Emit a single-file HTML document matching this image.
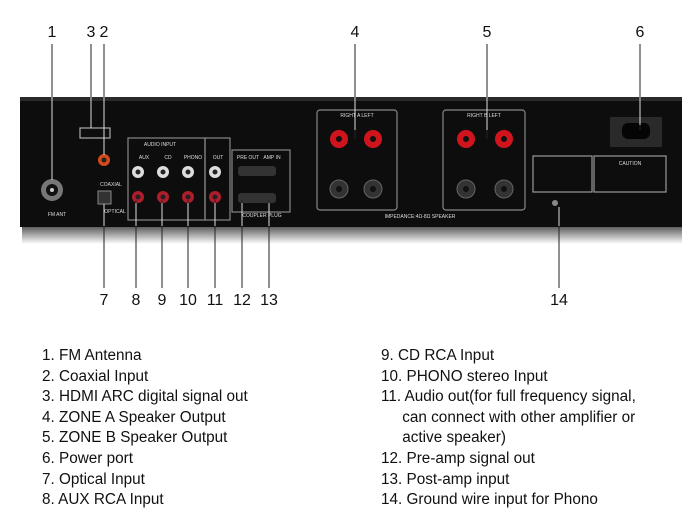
<!DOCTYPE html><html><head><style>body{margin:0;background:#fff;width:700px;height:521px;overflow:hidden;font-family:"Liberation Sans",sans-serif}
.leg{position:absolute;font-size:15.3px;line-height:20.6px;color:#111}</style></head><body>
<svg width="700" height="521" style="position:absolute;left:0;top:0" font-family="Liberation Sans">
<defs><linearGradient id="r" x1="0" y1="0" x2="0" y2="1"><stop offset="0" stop-color="#555"/><stop offset="1" stop-color="#fff"/></linearGradient></defs>
<rect x="22" y="226" width="660" height="18" fill="url(#r)"/>
<rect x="20" y="97" width="662" height="130" fill="#0d0d0d"/>
<rect x="20" y="97" width="662" height="4" fill="#2a2a2a"/>
<g fill="#111" font-size="16" text-anchor="middle">
<text x="52" y="37">1</text><text x="91" y="37">3</text><text x="104" y="37">2</text><text x="355" y="37">4</text><text x="487" y="37">5</text><text x="640" y="37">6</text>
<text x="104" y="305">7</text><text x="136" y="305">8</text><text x="162" y="305">9</text><text x="188" y="305">10</text><text x="215" y="305">11</text><text x="242" y="305">12</text><text x="269" y="305">13</text><text x="559" y="305">14</text>
</g>
<g fill="none" stroke-width="1.2">
<rect x="80" y="128" width="30" height="10" stroke="#aaa"/>
<rect x="128" y="138" width="77" height="82" stroke="#888"/>
<rect x="205" y="138" width="25" height="82" stroke="#888"/>
<rect x="232" y="150" width="58" height="62" stroke="#888"/>
<rect x="317" y="110" width="80" height="100" rx="3" stroke="#888"/>
<rect x="443" y="110" width="82" height="100" rx="3" stroke="#888"/>
<rect x="533" y="156" width="59" height="36" stroke="#999"/>
<rect x="594" y="156" width="72" height="36" stroke="#999"/>
</g>
<rect x="610" y="117" width="52" height="30" fill="#2a2a2a"/>
<rect x="622" y="123" width="28" height="16" rx="6" fill="#050505"/>
<circle cx="52" cy="190" r="11" fill="#777"/><circle cx="52" cy="190" r="6" fill="#111"/><circle cx="52" cy="190" r="2" fill="#ccc"/>
<circle cx="104" cy="160" r="6" fill="#d24a1a"/><circle cx="104" cy="160" r="2.5" fill="#222"/>
<rect x="98" y="191" width="13" height="13" fill="#333" stroke="#888"/>
<g fill="#ddd"><circle cx="138" cy="172" r="6"/><circle cx="163" cy="172" r="6"/><circle cx="188" cy="172" r="6"/><circle cx="215" cy="172" r="6"/></g>
<g fill="#b01d2a"><circle cx="138" cy="197" r="6"/><circle cx="163" cy="197" r="6"/><circle cx="188" cy="197" r="6"/><circle cx="215" cy="197" r="6"/></g>
<g fill="#222"><circle cx="138" cy="172" r="2.5"/><circle cx="163" cy="172" r="2.5"/><circle cx="188" cy="172" r="2.5"/><circle cx="215" cy="172" r="2.5"/><circle cx="138" cy="197" r="2.5"/><circle cx="163" cy="197" r="2.5"/><circle cx="188" cy="197" r="2.5"/><circle cx="215" cy="197" r="2.5"/></g>
<rect x="238" y="166" width="38" height="10" rx="3" fill="#333"/><rect x="238" y="193" width="38" height="10" rx="3" fill="#333"/>
<g fill="#d0141e"><circle cx="339" cy="139" r="9"/><circle cx="373" cy="139" r="9"/><circle cx="466" cy="139" r="9"/><circle cx="504" cy="139" r="9"/></g>
<g fill="#333" stroke="#666"><circle cx="339" cy="189" r="9"/><circle cx="373" cy="189" r="9"/><circle cx="466" cy="189" r="9"/><circle cx="504" cy="189" r="9"/></g>
<g fill="#111"><circle cx="339" cy="139" r="3"/><circle cx="373" cy="139" r="3"/><circle cx="466" cy="139" r="3"/><circle cx="504" cy="139" r="3"/><circle cx="339" cy="189" r="3"/><circle cx="373" cy="189" r="3"/><circle cx="466" cy="189" r="3"/><circle cx="504" cy="189" r="3"/></g>
<g fill="#ddd" font-size="5" text-anchor="middle">
<text x="160" y="146">AUDIO INPUT</text><text x="144" y="159">AUX</text><text x="168" y="159">CD</text><text x="193" y="159">PHONO</text><text x="218" y="159">OUT</text>
<text x="248" y="159">PRE OUT</text><text x="272" y="159">AMP IN</text><text x="262" y="217">COUPLER PLUG</text>
<text x="57" y="216">FM ANT</text><text x="111" y="186">COAXIAL</text><text x="115" y="213">OPTICAL</text>
<text x="357" y="117">RIGHT  A  LEFT</text><text x="484" y="117">RIGHT  B  LEFT</text>
<text x="420" y="218">IMPEDANCE:4Ω-8Ω   SPEAKER</text><text x="630" y="165">CAUTION</text>
</g>
<g stroke="#222" stroke-width="1">
<line x1="52" y1="44" x2="52" y2="180"/><line x1="91" y1="44" x2="91" y2="128"/><line x1="104" y1="44" x2="104" y2="155"/>
<line x1="355" y1="44" x2="355" y2="139"/><line x1="487" y1="44" x2="487" y2="139"/><line x1="640" y1="44" x2="640" y2="130"/>
<line x1="104" y1="204" x2="104" y2="288"/><line x1="136" y1="200" x2="136" y2="288"/><line x1="162" y1="200" x2="162" y2="288"/><line x1="188" y1="200" x2="188" y2="288"/><line x1="215" y1="200" x2="215" y2="288"/><line x1="242" y1="200" x2="242" y2="288"/><line x1="269" y1="200" x2="269" y2="288"/><line x1="559" y1="207" x2="559" y2="288"/>
</g>
<g stroke="#ddd" stroke-width="1">
<line x1="52" y1="97" x2="52" y2="180"/><line x1="91" y1="97" x2="91" y2="128"/><line x1="104" y1="97" x2="104" y2="155"/>
<line x1="355" y1="97" x2="355" y2="130"/><line x1="487" y1="97" x2="487" y2="130"/><line x1="640" y1="97" x2="640" y2="125"/>
<line x1="104" y1="204" x2="104" y2="226"/><line x1="136" y1="203" x2="136" y2="226"/><line x1="162" y1="203" x2="162" y2="226"/><line x1="188" y1="203" x2="188" y2="226"/><line x1="215" y1="203" x2="215" y2="226"/><line x1="242" y1="203" x2="242" y2="226"/><line x1="269" y1="203" x2="269" y2="226"/><line x1="559" y1="207" x2="559" y2="226"/>
</g>
<circle cx="555" cy="203" r="3" fill="#888"/>
</svg>
<div class="leg" style="left:42px;top:346px">1. FM Antenna<br>2. Coaxial Input<br>3. HDMI ARC digital signal out<br>4. ZONE A Speaker Output<br>5. ZONE B Speaker Output<br>6. Power port<br>7. Optical Input<br>8. AUX RCA Input</div>
<div class="leg" style="left:381px;top:346px">9. CD RCA Input<br>10. PHONO stereo Input<br>11. Audio out(for full frequency signal,<br>&nbsp;&nbsp;&nbsp;&nbsp;&nbsp;can connect with other amplifier or<br>&nbsp;&nbsp;&nbsp;&nbsp;&nbsp;active speaker)<br>12. Pre-amp signal out<br>13. Post-amp input<br>14. Ground wire input for Phono</div>
</body></html>
